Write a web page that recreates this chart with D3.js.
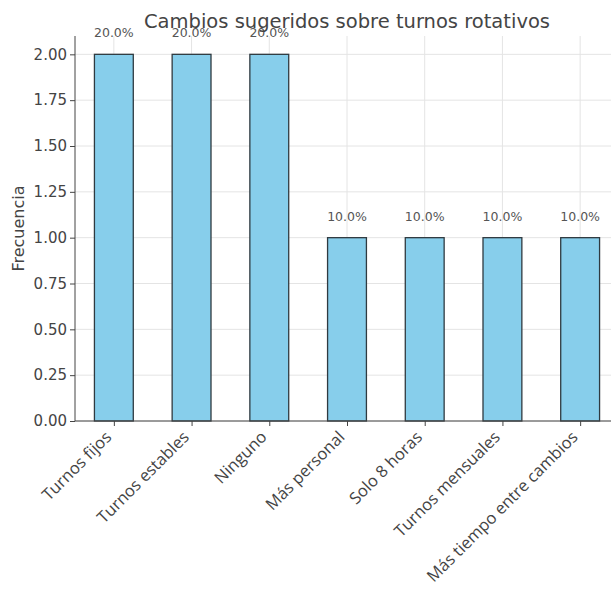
<!DOCTYPE html>
<html>
<head>
<meta charset="utf-8">
<script src="https://cdn.jsdelivr.net/npm/d3@7"></script>
<style>
  html, body { margin: 0; padding: 0; background: #fff; }
  svg { display: block; font-family: "DejaVu Sans", sans-serif; }
</style>
</head>
<body>
<svg id="chart" width="611" height="592"></svg>
<script>
// Suggested changes to rotating shifts: response counts and their share
const categories = ["Turnos fijos", "Turnos estables", "Ninguno", "Más personal", "Solo 8 horas", "Turnos mensuales", "Más tiempo entre cambios"];
const counts = [2, 2, 2, 1, 1, 1, 1];
const percentLabels = ["20.0%", "20.0%", "20.0%", "10.0%", "10.0%", "10.0%", "10.0%"];
const yTicks = [0, 0.25, 0.5, 0.75, 1.0, 1.25, 1.5, 1.75, 2.0];

const svg = d3.select("#chart");
const plotLeft = 75, plotRight = 619, plotTop = 36, plotBottom = 421;

// Axes span category -0.5 .. n-0.5 like a pandas bar plot
const xLin = d3.scaleLinear().domain([-0.5, categories.length - 0.5]).range([plotLeft, plotRight]);
const y = d3.scaleLinear().domain([0, 2.1]).range([plotBottom, plotTop]);
const barW = (xLin(1) - xLin(0)) * 0.5;

// Grid
const grid = svg.append("g");
grid.selectAll("line.h").data(yTicks).join("line")
  .attr("class", "h")
  .attr("x1", plotLeft).attr("x2", plotRight)
  .attr("y1", d => y(d)).attr("y2", d => y(d))
  .attr("stroke", "#e4e4e4").attr("stroke-width", 1);
grid.selectAll("line.v").data(categories).join("line")
  .attr("class", "v")
  .attr("x1", (d, i) => xLin(i)).attr("x2", (d, i) => xLin(i))
  .attr("y1", plotTop).attr("y2", plotBottom)
  .attr("stroke", "#e4e4e4").attr("stroke-width", 1);

// Bars
svg.append("g").selectAll("rect").data(counts).join("rect")
  .attr("x", (d, i) => xLin(i) - barW / 2)
  .attr("width", barW)
  .attr("y", d => y(d))
  .attr("height", d => plotBottom - y(d))
  .attr("fill", "#87ceeb")
  .attr("stroke", "#2f3a40")
  .attr("stroke-width", 1.3);

// Percentage labels above bars
svg.append("g").selectAll("text").data(counts).join("text")
  .attr("x", (d, i) => xLin(i))
  .attr("y", d => y(d) - 17)
  .attr("text-anchor", "middle")
  .attr("font-size", 12.5)
  .attr("fill", "#555")
  .text((d, i) => percentLabels[i]);

// Y axis
const yAxis = d3.axisLeft(y).tickValues(yTicks).tickFormat(d3.format(".2f")).tickSize(5).tickPadding(3);
const gy = svg.append("g").attr("transform", `translate(${plotLeft},0)`).call(yAxis);
gy.select(".domain").attr("stroke", "#444").attr("d", `M0,${plotTop}V${plotBottom}`);
gy.selectAll(".tick line").attr("stroke", "#444");
gy.selectAll(".tick text").attr("font-size", 15).attr("fill", "#444").attr("font-family", "DejaVu Sans, sans-serif");

// X axis: labels rotated 45°, their rotated box's top-right corner at the tick
const xBand = d3.scalePoint().domain(categories).range([xLin(0), xLin(categories.length - 1)]);
const xAxis = d3.axisBottom(xBand).tickSize(5).tickPadding(0);
const gx = svg.append("g").attr("transform", `translate(0,${plotBottom})`).call(xAxis);
gx.select(".domain").attr("stroke", "#444").attr("d", `M${plotLeft},0H${plotRight}`);
gx.selectAll(".tick line").attr("stroke", "#444");
gx.selectAll(".tick text")
  .attr("font-size", 16.5).attr("fill", "#444").attr("font-family", "'Open Sans', sans-serif")
  .attr("text-anchor", "end")
  .attr("y", 0).attr("dy", "0.35em")
  .attr("transform", "translate(-6,13) rotate(-45)");

// Y label
svg.append("text")
  .attr("transform", `translate(24,${(plotTop + plotBottom) / 2}) rotate(-90)`)
  .attr("text-anchor", "middle")
  .attr("font-size", 16)
  .attr("fill", "#444")
  .text("Frecuencia");

// Title
svg.append("text")
  .attr("x", (plotLeft + plotRight) / 2)
  .attr("y", 28)
  .attr("text-anchor", "middle")
  .attr("font-size", 19.5)
  .attr("fill", "#444")
  .text("Cambios sugeridos sobre turnos rotativos");
</script>
</body>
</html>
